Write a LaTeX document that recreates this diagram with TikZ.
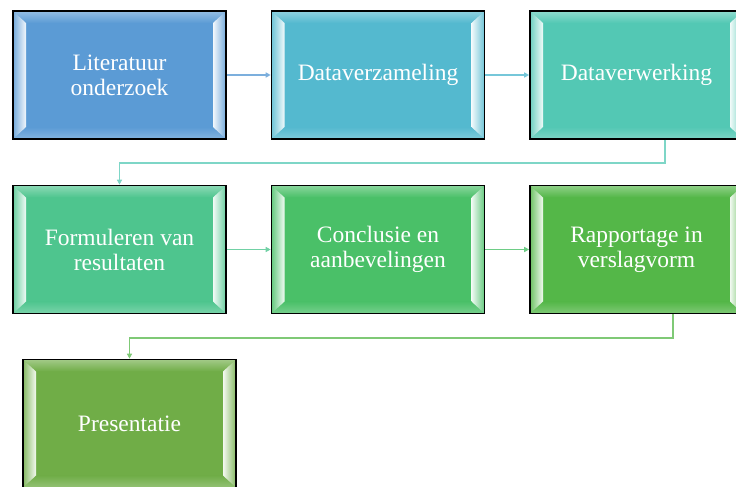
\documentclass[tikz,border=0pt]{standalone}
\usepackage{fontspec}
\setmainfont{Liberation Serif}
\usetikzlibrary{arrows.meta}
\definecolor{cA}{RGB}{91,155,213}
\definecolor{cB}{RGB}{84,185,207}
\definecolor{cC}{RGB}{83,200,180}
\definecolor{cD}{RGB}{78,197,142}
\definecolor{cE}{RGB}{74,192,104}
\definecolor{cF}{RGB}{84,183,72}
\definecolor{cG}{RGB}{112,173,71}
\tikzset{
  bevbox/.style={rectangle, draw=black, line width=1.6pt, fill=#1,
    minimum width=213pt, minimum height=128pt, inner sep=0pt,
    align=center, text=white, font=\fontsize{23.5}{25}\selectfont,
    path picture={
      \coordinate (nw) at (path picture bounding box.north west);
      \coordinate (se) at (path picture bounding box.south east);
      \coordinate (ne) at (nw -| se);
      \coordinate (sw) at (se -| nw);
      \coordinate (inw) at ([shift={(13pt,-12pt)}]nw);
      \coordinate (ine) at ([shift={(-13pt,-12pt)}]ne);
      \coordinate (ise) at ([shift={(-13pt,12pt)}]se);
      \coordinate (isw) at ([shift={(13pt,12pt)}]sw);
      \shade[top color=#1!65!white, bottom color=#1] (nw) -- (ne) -- (ine) -- (inw) -- cycle;
      \shade[top color=#1, bottom color=#1!75!white] (sw) -- (se) -- (ise) -- (isw) -- cycle;
      \shade[left color=#1!85!white, middle color=#1!55!white, right color=white!92!#1] (nw) -- (inw) -- (isw) -- (sw) -- cycle;
      \shade[right color=#1!85!white, middle color=#1!55!white, left color=white!92!#1] (ne) -- (ine) -- (ise) -- (se) -- cycle;
    }},
  conn/.style={line width=1.6pt, -{Triangle[length=5pt,width=5pt]}}
}
\begin{document}
\begin{tikzpicture}[x=1pt,y=1pt]
\useasboundingbox (0,0) rectangle (736,-487);
\clip (0,0) rectangle (736,-487);
\node[bevbox=cA] (b1) at (119.5,-75) {Literatuur\\onderzoek};
\node[bevbox=cB] (b2) at (378,-75) {Dataverzameling};
\node[bevbox=cC] (b3) at (636.5,-75) {Dataverwerking};
\node[bevbox=cD] (b4) at (119.5,-249.5) {Formuleren van\\resultaten};
\node[bevbox=cE] (b5) at (378,-249.5) {Conclusie en\\aanbevelingen};
\node[bevbox=cF] (b6) at (636.5,-249.5) {Rapportage in\\verslagvorm};
\node[bevbox=cG] (b7) at (129.5,-423.5) {Presentatie};
\coordinate (k1) at (665,-163);
\coordinate (k2) at (673,-338);
\draw[conn, draw=cA!80!white] (b1) -- (b2);
\draw[conn, draw=cB!80!white] (b2) -- (b3);
\draw[conn, draw=cC!75!white] (b3.south -| k1) -- (k1) -- (k1 -| b4.north) -- (b4.north);
\draw[conn, draw=cD!80!white] (b4) -- (b5);
\draw[conn, draw=cE!80!white] (b5) -- (b6);
\draw[conn, draw=cF!75!white] (b6.south -| k2) -- (k2) -- (k2 -| b7.north) -- (b7.north);
\end{tikzpicture}
\end{document}
